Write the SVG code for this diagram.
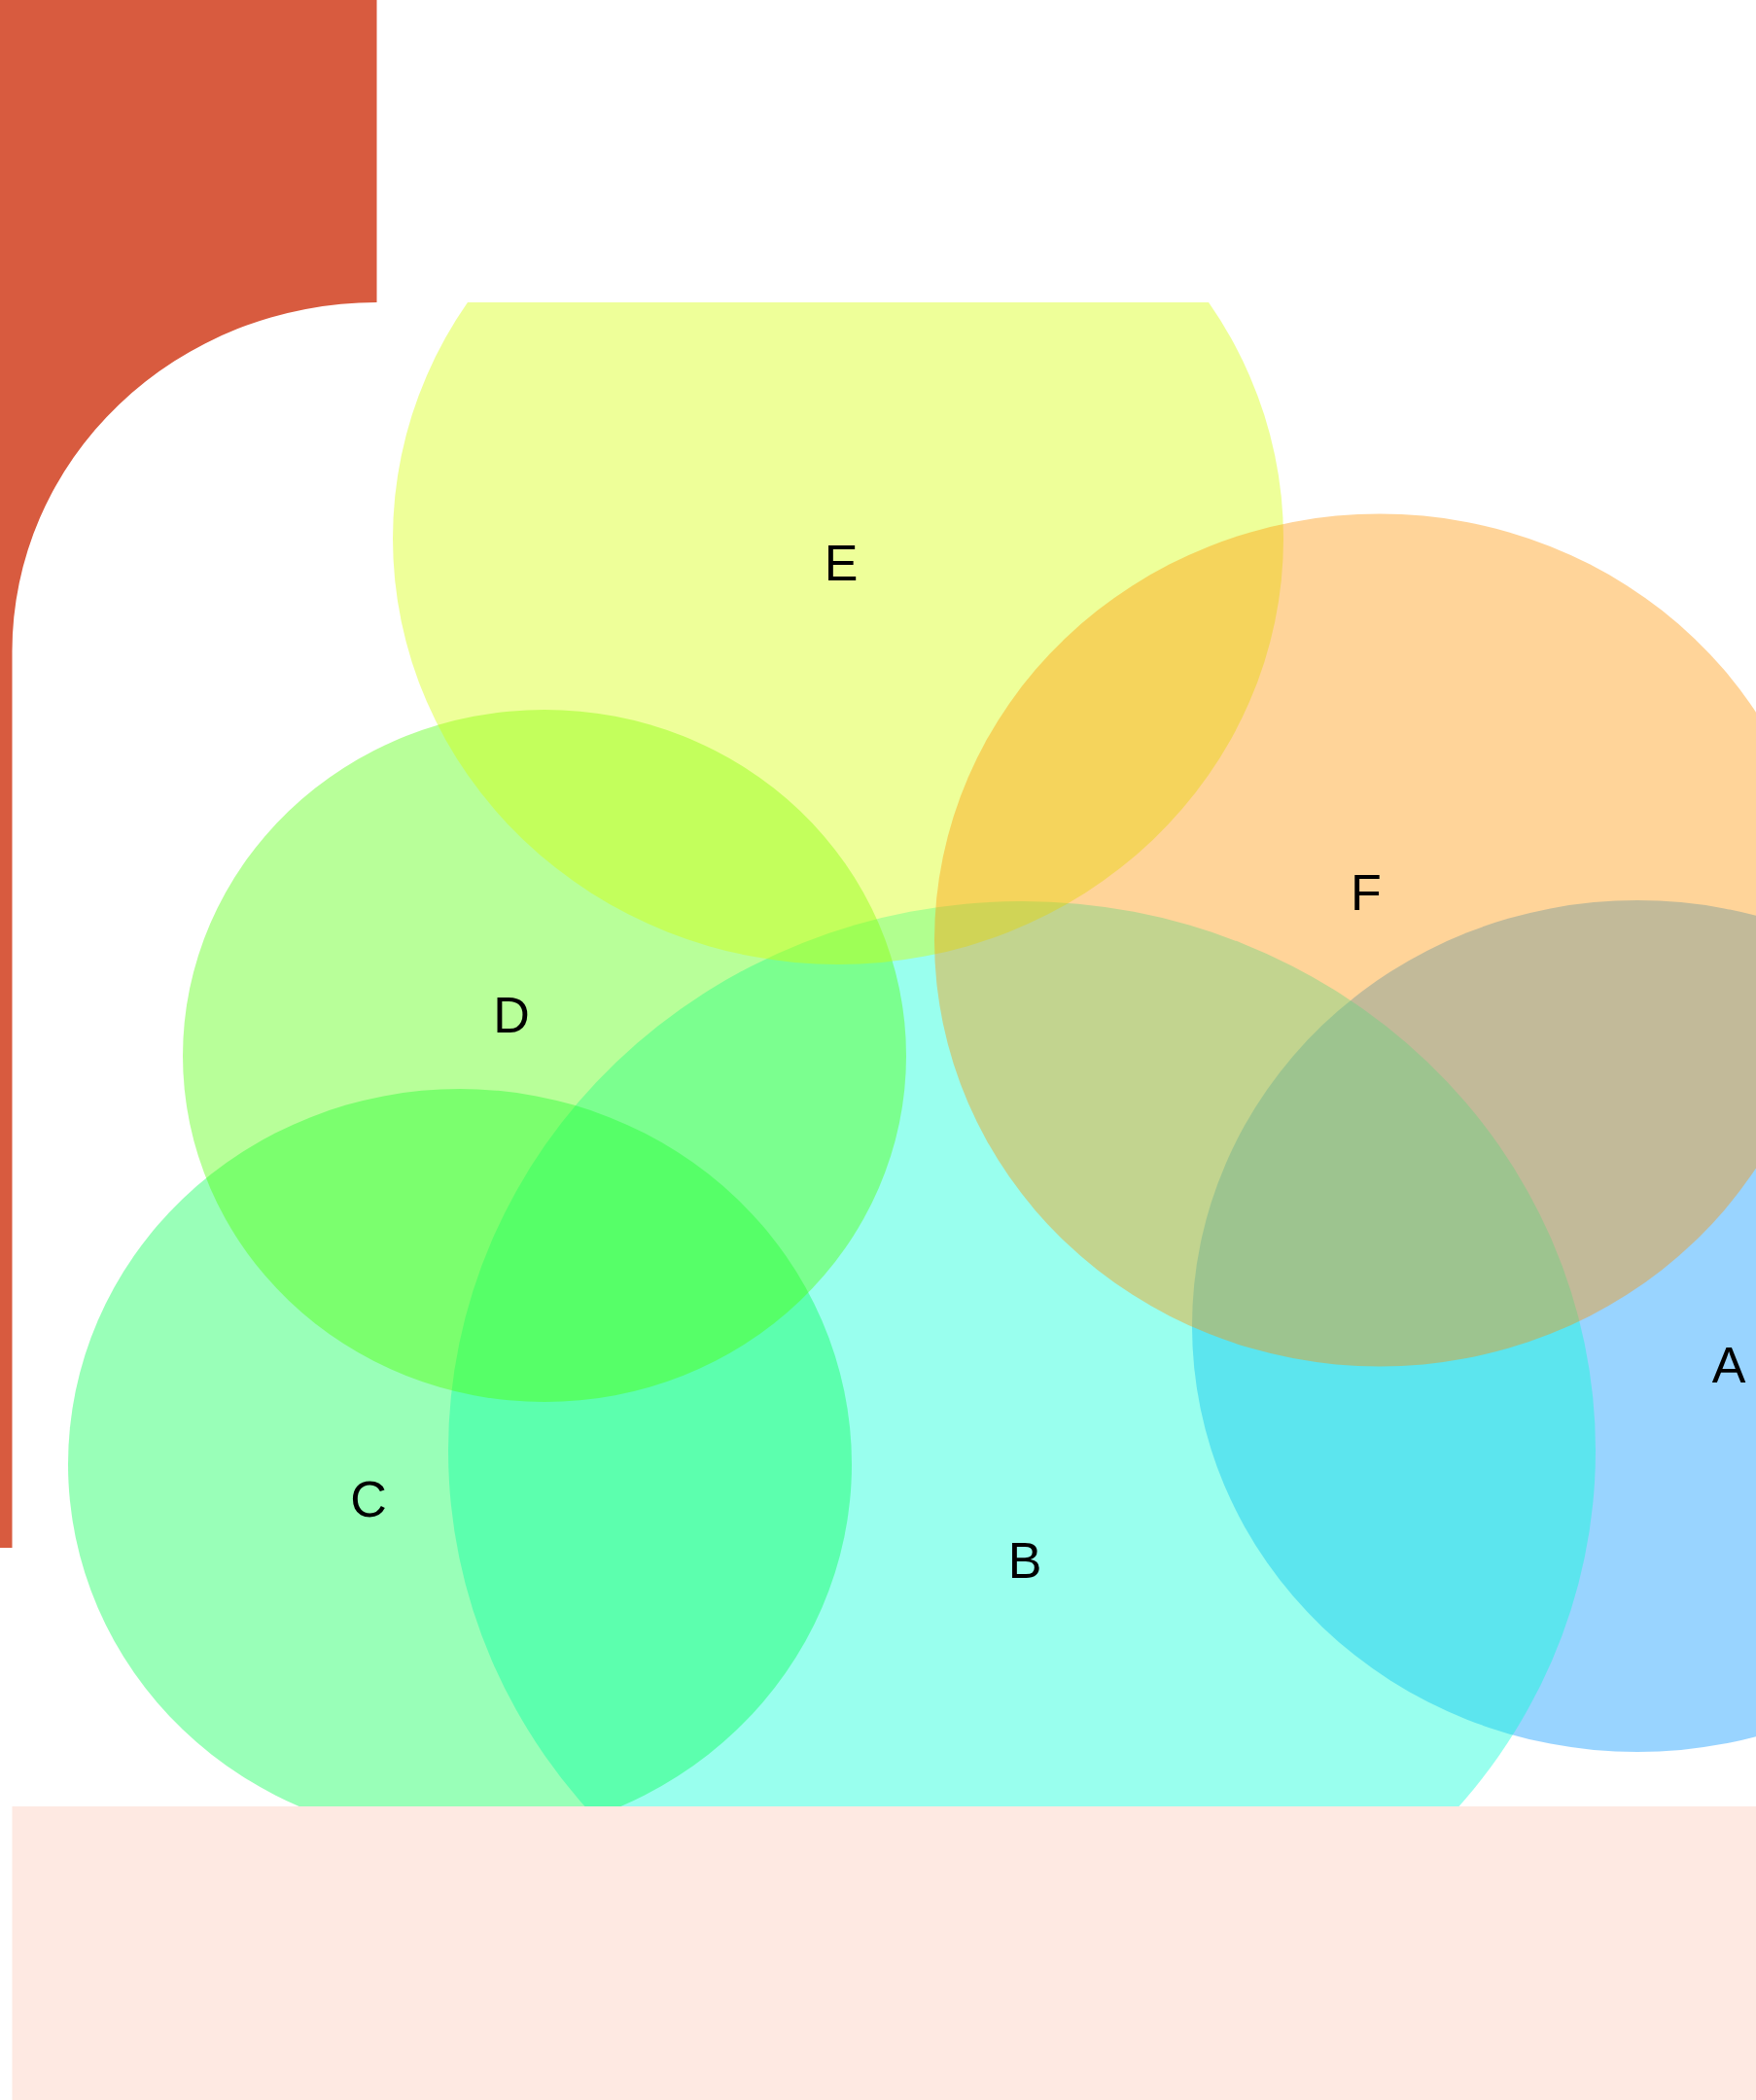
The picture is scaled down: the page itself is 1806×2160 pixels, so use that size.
<svg xmlns="http://www.w3.org/2000/svg" width="1806" height="2160" viewBox="0 0 1806 2160">
  <style>
    .lbl { font-family: "Liberation Sans", Arial, sans-serif; font-size: 52px; fill: #000000; text-anchor: middle; }
    .set { fill-opacity: 0.4; stroke: none; }
  </style>
  <defs>
    <clipPath id="area">
      <path d="M 12.5 670 A 375 359 0 0 1 387.5 311 L 1806 311 L 1806 1858 L 12.5 1858 Z"/>
    </clipPath>
  </defs>
  <rect x="0" y="0" width="1806" height="2160" fill="#ffffff"/>
  <g id="frame">
    <path d="M 0 0 L 387.5 0 L 387.5 311 A 375 359 0 0 0 12.5 670 L 12.5 1592 L 0 1592 Z" fill="#D85B3F"/>
  </g>
  <g id="sets" clip-path="url(#area)">
    <g id="node-A">
      <ellipse class="set" cx="1684" cy="1364" rx="458" ry="438" fill="#0094FF"/>
      <text class="lbl" x="1778" y="1422">A</text>
    </g>
    <g id="node-B">
      <ellipse class="set" cx="1051" cy="1492" rx="590" ry="565" fill="#00FFD4"/>
      <text class="lbl" x="1054" y="1623">B</text>
    </g>
    <g id="node-C">
      <ellipse class="set" cx="473" cy="1506" rx="403" ry="386" fill="#00FF4D"/>
      <text class="lbl" x="379" y="1560">C</text>
    </g>
    <g id="node-D">
      <ellipse class="set" cx="560" cy="1086" rx="372" ry="356" fill="#4DFF00"/>
      <text class="lbl" x="526" y="1062">D</text>
    </g>
    <g id="node-E">
      <ellipse class="set" cx="862" cy="554" rx="458" ry="438" fill="#D4FF00"/>
      <text class="lbl" x="865" y="597">E</text>
    </g>
    <g id="node-F">
      <ellipse class="set" cx="1419" cy="967" rx="458" ry="438.5" fill="#FF9400"/>
      <text class="lbl" x="1405" y="936">F</text>
    </g>
  </g>
  <g id="connectors"/>
  <g id="footer">
    <rect x="12.5" y="1858" width="1793.5" height="302" fill="#FEE9E2"/>
  </g>
</svg>
